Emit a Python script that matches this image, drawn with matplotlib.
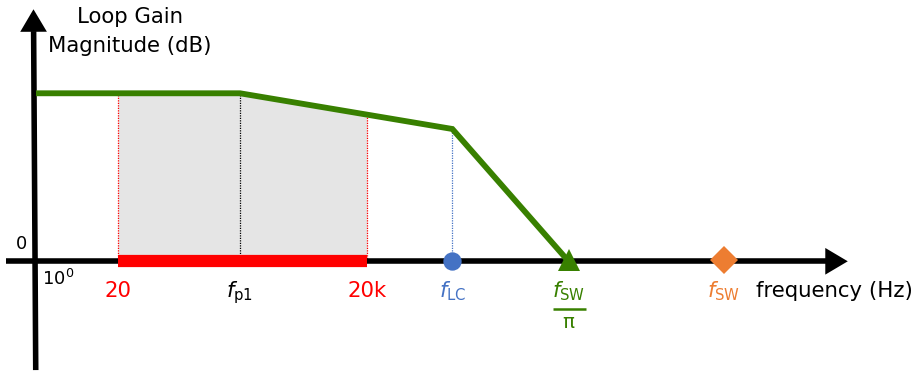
import numpy as np
import matplotlib
matplotlib.use('Agg')
import matplotlib.pyplot as plt

# schematic bode plot: x is a stretched log-frequency position, y is gain in dB
corner_x = [0.313, 2.771, 5.329, 6.729]
corner_db = [40, 40, 31.5, 0]

band_x = [1.301, 4.301]            # 20 Hz .. 20 kHz
fp1_x = 2.771
flc_x = 5.329
fsw_pi_x = 6.729
fsw_x = 8.602

tick_pos = [1.301, 2.771, 4.301, 5.329, 6.729, 8.602]
tick_text = ['20', r'$f_{\mathrm{p1}}$', '20k', r'$f_{\mathrm{LC}}$',
             r'$f_{\mathrm{SW}}$', r'$f_{\mathrm{SW}}$']
tick_color = ['red', 'black', 'red', '#4472C4', '#388000', '#ED7D31']

green = '#388000'
blue = '#4472C4'
orange = '#ED7D31'

fig = plt.figure(figsize=(9.2, 3.71), dpi=100)
ax = fig.add_axes([0, 0, 1, 1])
ax.set_xlim(-0.1205, 10.963)
ax.set_ylim(-26.12, 62.21)
ax.axis('off')

# shaded band under the curve
fx = [band_x[0], fp1_x, band_x[1]]
fy = np.interp(fx, corner_x, corner_db)
ax.fill_between(fx, 0, fy, color='#E5E5E5', lw=0, zorder=1)

# dotted guides
for x, c in [(band_x[0], 'red'), (band_x[1], 'red'), (fp1_x, 'black'), (flc_x, blue)]:
    top = np.interp(x, corner_x, corner_db)
    ax.plot([x, x], [0, top], ls=(0, (1, 1)), lw=0.9, color=c, zorder=2)

# axes with arrow heads
head = dict(arrowstyle='-|>,head_length=0.81,head_width=0.48',
            mutation_scale=20, lw=0, color='black', shrinkA=0, shrinkB=0)
ax.plot([-0.05, 9.83], [0, 0], color='black', lw=4, solid_capstyle='butt', zorder=3)
ax.annotate('', xy=(10.093, 0), xytext=(9.7, 0), arrowprops=head, zorder=3)
ax.plot([0.31, 0.2845], [-25.9, 54.8], color='black', lw=4, solid_capstyle='butt', zorder=3)
ax.annotate('', xy=(0.2829, 60.0), xytext=(0.2845, 50), arrowprops=head, zorder=3)

# audio band bar
ax.plot(band_x, [0, 0], color='red', lw=8.8, solid_capstyle='butt', zorder=4)

# loop gain
ax.plot(corner_x, corner_db, color=green, lw=4.2, solid_joinstyle='miter',
        solid_capstyle='butt', zorder=5)

ax.plot(flc_x, 0, 'o', color=blue, ms=13.2, mew=0, zorder=6)
ax.plot(fsw_pi_x, 0.4, '^', color=green, ms=16, mew=0, zorder=6)
ax.plot(fsw_x, 0.2, 'D', color=orange, ms=14, mew=0, zorder=6)

# labels
fs = 15.3
for x, t, c in zip(tick_pos, tick_text, tick_color):
    ax.text(x, -8.6, t, color=c, fontsize=fs, ha='center', va='baseline')
# fraction bar and pi under f_SW
ax.plot([6.542, 6.940], [-11.3, -11.3], color=green, lw=1.8, solid_capstyle='butt')
ax.text(fsw_pi_x, -15.9, 'π', color=green, fontsize=fs - 1, ha='center', va='baseline')
ax.text(8.988, -8.6, 'frequency (Hz)', fontsize=fs, ha='left', va='baseline')
ax.text(0.144, 4.1, '0', fontsize=13, ha='center', va='center')
ax.text(0.385, -4.2, r'$10^0$', fontsize=13, ha='left', va='center')
ax.text(1.446, 56.8, 'Loop Gain', fontsize=fs, ha='center', va='baseline')
ax.text(1.446, 49.9, 'Magnitude (dB)', fontsize=fs, ha='center', va='baseline')

fig.savefig('out.png', dpi=100)
